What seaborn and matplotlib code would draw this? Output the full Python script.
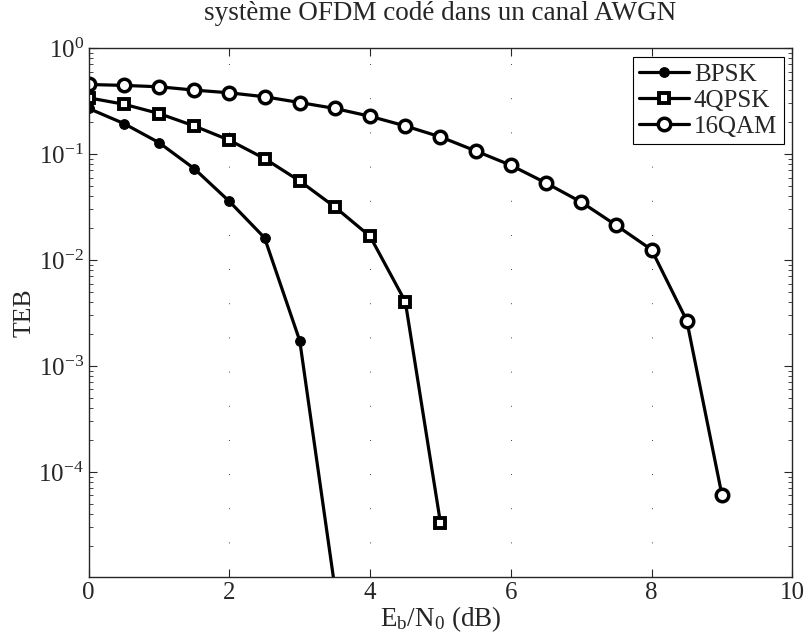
import numpy as np
import pandas as pd
import matplotlib
matplotlib.use("Agg")
import matplotlib.pyplot as plt
import seaborn as sns

# valeurs (TEB vs Eb/N0)
ebn0_bpsk = [0, 0.5, 1, 1.5, 2, 2.5, 3, 3.5]
teb_bpsk = [0.269, 0.194, 0.128, 0.0728, 0.0357, 0.0162, 1.73e-3, 8e-6]

ebn0_qpsk = [0, 0.5, 1, 1.5, 2, 2.5, 3, 3.5, 4, 4.5, 5]
teb_qpsk = [0.339, 0.295, 0.241, 0.184, 0.135, 0.0906, 0.0556, 0.0316,
            0.0167, 4.05e-3, 3.3e-5]

ebn0_qam = [0, 0.5, 1, 1.5, 2, 2.5, 3, 3.5, 4, 4.5, 5, 5.5, 6, 6.5, 7,
            7.5, 8, 8.5, 9]
teb_qam = [0.453, 0.444, 0.431, 0.401, 0.378, 0.347, 0.306, 0.269, 0.227,
           0.184, 0.145, 0.107, 0.0783, 0.0533, 0.0352, 0.0212, 0.0125,
           2.68e-3, 6.06e-5]

labels = ["BPSK", "4QPSK", "16QAM"]

sns.set_style("ticks")
plt.rcParams['font.family'] = ['Liberation Serif', 'DejaVu Serif']
plt.rcParams['mathtext.fontset'] = 'custom'
plt.rcParams['mathtext.rm'] = 'Liberation Serif'
plt.rcParams['mathtext.it'] = 'Liberation Serif:italic'
plt.rcParams['font.size'] = 18

fig = plt.figure(figsize=(8.06, 6.43), dpi=100)
ax = fig.add_axes([0.110, 0.1026, 0.873, 0.8227])

df_bpsk = pd.DataFrame({'x': ebn0_bpsk, 'y': teb_bpsk})
df_qpsk = pd.DataFrame({'x': ebn0_qpsk, 'y': teb_qpsk})
df_qam = pd.DataFrame({'x': ebn0_qam, 'y': teb_qam})

sns.lineplot(data=df_bpsk, x='x', y='y', ax=ax, color='black', lw=2.3,
             marker='o', markersize=7, mfc='black', mec='black', label=labels[0])
sns.lineplot(data=df_qpsk, x='x', y='y', ax=ax, color='black', lw=2.3,
             marker='s', markersize=7.5, mfc='white', mec='black', mew=2.8,
             label=labels[1])
sns.lineplot(data=df_qam, x='x', y='y', ax=ax, color='black', lw=2.3,
             marker='o', markersize=9, mfc='white', mec='black', mew=2.5,
             label=labels[2])

ax.set_yscale('log')
ax.set_xlim(0, 10)
ax.set_ylim(1.02e-5, 1)
ax.set_xticks([0, 2, 4, 6, 8, 10])
ax.set_yticks([1e-4, 1e-3, 1e-2, 1e-1, 1e0])
ax.tick_params(which='both', direction='in', top=True, right=True, labelsize=18)
ax.tick_params(which='major', length=6, width=0.8)
ax.tick_params(which='minor', length=3, width=0.6)
ax.grid(axis='x', which='major', color='black', linestyle=(0, (1, 40)), lw=0.6)
for s in ax.spines.values():
    s.set_linewidth(1.0)

ax.set_title("système OFDM codé dans un canal AWGN", fontsize=19.5, pad=20)
ax.set_xlabel(r"$\mathregular{E_b/N_0}$ (dB)", fontsize=19.5, labelpad=0)
ax.set_ylabel("TEB", fontsize=18.5, labelpad=2)

leg = ax.legend(loc='upper right', fontsize=18, frameon=True, fancybox=False,
                edgecolor='black', framealpha=1, handlelength=2.0,
                borderpad=0.25, labelspacing=0.15, handletextpad=0.2,
                borderaxespad=0.35)
leg.get_frame().set_linewidth(0.8)

fig.savefig("out.png", dpi=100)
